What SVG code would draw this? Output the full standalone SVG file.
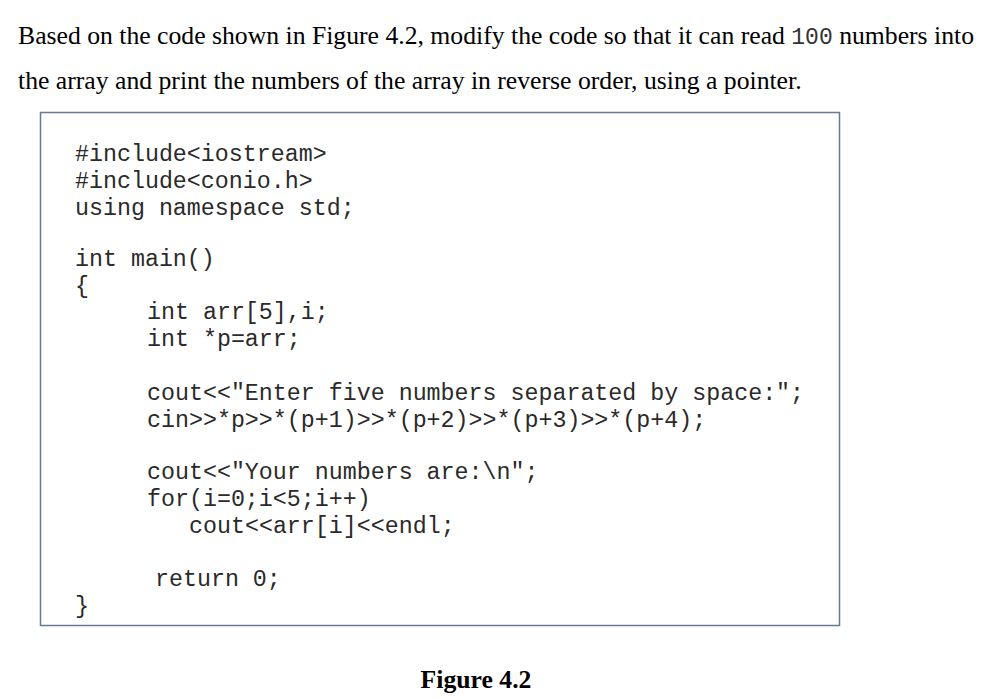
<svg xmlns="http://www.w3.org/2000/svg" width="999" height="699" viewBox="0 0 999 699">
<style>
.t{font-family:"Liberation Serif",serif;font-size:25.7px;fill:#000}
.c{font-family:"Liberation Mono",monospace;font-size:23.3px;fill:#2a2a2a}
</style>
<rect width="999" height="699" fill="#fff"/>
<text class="t" x="18" y="44">Based on the code shown in Figure 4.2, modify the code so that it can read <tspan font-family="Liberation Mono,monospace" font-size="23px" fill="#333">100</tspan> numbers into</text>
<text class="t" x="18" y="89">the array and print the numbers of the array in reverse order, using a pointer.</text>
<rect x="40.5" y="112.5" width="799" height="513" fill="#fff" stroke="#6a7a90" stroke-width="1.5"/>
<g class="c">
<text x="75" y="161">#include&lt;iostream&gt;</text>
<text x="75" y="188">#include&lt;conio.h&gt;</text>
<text x="75" y="215">using namespace std;</text>
<text x="75" y="266">int main()</text>
<text x="75" y="293">{</text>
<text x="147" y="319">int arr[5],i;</text>
<text x="147" y="346">int *p=arr;</text>
<text x="147" y="400">cout&lt;&lt;"Enter five numbers separated by space:";</text>
<text x="147" y="427">cin&gt;&gt;*p&gt;&gt;*(p+1)&gt;&gt;*(p+2)&gt;&gt;*(p+3)&gt;&gt;*(p+4);</text>
<text x="147" y="479">cout&lt;&lt;"Your numbers are:\n";</text>
<text x="147" y="506">for(i=0;i&lt;5;i++)</text>
<text x="189" y="533">cout&lt;&lt;arr[i]&lt;&lt;endl;</text>
<text x="155" y="586">return 0;</text>
<text x="75" y="613">}</text>
</g>
<text class="t" x="476" y="688" text-anchor="middle" font-weight="bold" font-size="25.5px">Figure 4.2</text>
</svg>
